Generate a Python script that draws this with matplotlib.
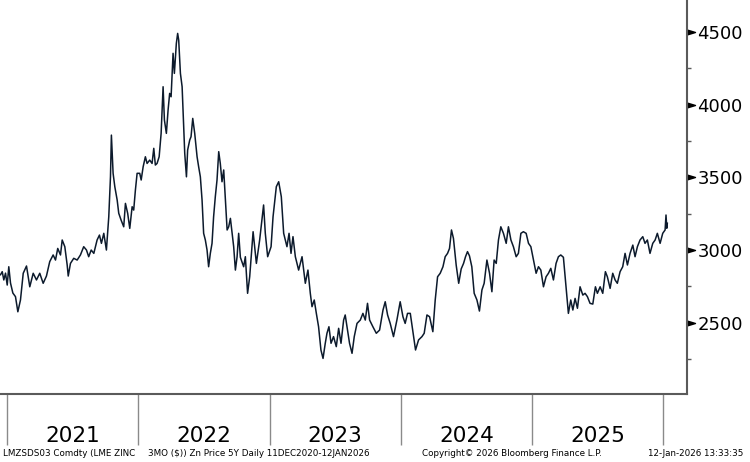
import numpy as np
import matplotlib
matplotlib.use("Agg")
import matplotlib.pyplot as plt

# LME zinc 3M price (decimal year, USD/t)
t = [2020.949, 2020.962, 2020.974, 2020.987, 2021.000, 2021.012, 2021.025, 2021.043, 2021.063, 2021.081,
     2021.101, 2021.122, 2021.147, 2021.172, 2021.198, 2021.223, 2021.248, 2021.274, 2021.299, 2021.324,
     2021.350, 2021.368, 2021.385, 2021.406, 2021.419, 2021.439, 2021.457, 2021.465, 2021.482, 2021.507,
     2021.533, 2021.558, 2021.583, 2021.604, 2021.621, 2021.640, 2021.660, 2021.685, 2021.703, 2021.718,
     2021.736, 2021.756, 2021.774, 2021.787, 2021.794, 2021.807, 2021.820, 2021.838, 2021.850, 2021.868,
     2021.888, 2021.901, 2021.918, 2021.934, 2021.952, 2021.964, 2021.977, 2021.990,
     2022.010, 2022.021, 2022.036, 2022.053, 2022.066, 2022.086, 2022.104, 2022.117, 2022.129, 2022.142,
     2022.158, 2022.173, 2022.188, 2022.198, 2022.213, 2022.226, 2022.238, 2022.249, 2022.264, 2022.274,
     2022.289, 2022.299, 2022.307, 2022.320, 2022.333, 2022.340, 2022.353, 2022.366, 2022.375, 2022.391,
     2022.401, 2022.414, 2022.429, 2022.447, 2022.459, 2022.472, 2022.485, 2022.497, 2022.510, 2022.523,
     2022.535, 2022.548, 2022.561, 2022.573, 2022.586, 2022.599, 2022.612, 2022.624, 2022.637, 2022.650,
     2022.663, 2022.676, 2022.688, 2022.701, 2022.714, 2022.726, 2022.739, 2022.752, 2022.764, 2022.777,
     2022.802, 2022.815, 2022.832, 2022.848, 2022.874, 2022.899, 2022.924, 2022.954, 2022.967, 2022.985,
     2023.011, 2023.026, 2023.051, 2023.069, 2023.089, 2023.107, 2023.132, 2023.148, 2023.163, 2023.178,
     2023.196, 2023.221, 2023.247, 2023.272, 2023.292, 2023.310, 2023.323, 2023.340, 2023.356, 2023.373,
     2023.391, 2023.407, 2023.424, 2023.437, 2023.452, 2023.468, 2023.487, 2023.508, 2023.526, 2023.544,
     2023.564, 2023.576, 2023.594, 2023.609, 2023.628, 2023.645, 2023.666, 2023.691, 2023.711, 2023.729,
     2023.746, 2023.762, 2023.787, 2023.813, 2023.838, 2023.864, 2023.881, 2023.899, 2023.919, 2023.944,
     2023.970, 2023.995,
     2024.016, 2024.033, 2024.051, 2024.072, 2024.092, 2024.112, 2024.135, 2024.161, 2024.178, 2024.199,
     2024.219, 2024.244, 2024.262, 2024.280, 2024.300, 2024.321, 2024.338, 2024.356, 2024.371, 2024.386,
     2024.401, 2024.422, 2024.441, 2024.460, 2024.478, 2024.493, 2024.508, 2024.523, 2024.541, 2024.559,
     2024.580, 2024.599, 2024.618, 2024.635, 2024.656, 2024.676, 2024.694, 2024.711, 2024.727, 2024.744,
     2024.762, 2024.782, 2024.803, 2024.820, 2024.839, 2024.858, 2024.879, 2024.896, 2024.915, 2024.934,
     2024.955, 2024.973, 2024.991,
     2025.011, 2025.031, 2025.049, 2025.067, 2025.087, 2025.107, 2025.125, 2025.143, 2025.163, 2025.183,
     2025.201, 2025.219, 2025.239, 2025.252, 2025.265, 2025.277, 2025.295, 2025.311, 2025.328, 2025.346,
     2025.366, 2025.387, 2025.404, 2025.422, 2025.442, 2025.463, 2025.483, 2025.498, 2025.519, 2025.539,
     2025.559, 2025.574, 2025.595, 2025.615, 2025.633, 2025.650, 2025.671, 2025.691, 2025.709, 2025.727,
     2025.747, 2025.768, 2025.785, 2025.803, 2025.823, 2025.844, 2025.861, 2025.879, 2025.899, 2025.920,
     2025.938, 2025.955, 2025.976, 2025.996, 2026.014, 2026.021, 2026.027, 2026.031]

price = [2830, 2851, 2794, 2841, 2759, 2885, 2773, 2704, 2679, 2575,
         2656, 2840, 2890, 2747, 2840, 2794, 2840, 2771, 2821, 2920,
         2966, 2931, 3011, 2966, 3069, 3023, 2897, 2821, 2908, 2943,
         2931, 2966, 3023, 3000, 2954, 3000, 2977, 3069, 3103, 3046,
         3115, 3000, 3229, 3504, 3791, 3528, 3436, 3344, 3253, 3206,
         3160, 3321, 3253, 3149, 3298, 3275, 3413, 3528,
         3528, 3482, 3573, 3642, 3596, 3619, 3596, 3700, 3585, 3596,
         3642, 3803, 4124, 3895, 3803, 3963, 4078, 4055, 4354, 4216,
         4422, 4491, 4445, 4216, 4124, 3963, 3665, 3504, 3688, 3757,
         3780, 3906, 3803, 3642, 3573, 3504, 3344, 3115, 3069, 3000,
         2885, 2977, 3046, 3229, 3367, 3482, 3677, 3596, 3470, 3551,
         3344, 3138, 3160, 3218, 3115, 3023, 2862, 2954, 3115, 2950,
         2885, 2954, 2702, 2816, 3126, 2908, 3069, 3310, 3115, 2954,
         3023, 3229, 3436, 3470, 3367, 3115, 3023, 3115, 2977, 3092,
         2954, 2862, 2954, 2771, 2862, 2702, 2610, 2656, 2564, 2472,
         2312, 2254, 2358, 2427, 2472, 2358, 2404, 2335, 2461, 2358,
         2518, 2553, 2449, 2358, 2289, 2404, 2495, 2518, 2564, 2518,
         2633, 2518, 2472, 2427, 2449, 2587, 2644, 2553, 2495, 2404,
         2518, 2644,
         2541, 2495, 2564, 2564, 2438, 2312, 2381, 2404, 2427, 2553,
         2541, 2438, 2656, 2816, 2840, 2885, 2954, 2977, 3011, 3138,
         3080, 2895, 2771, 2870, 2908, 2954, 2989, 2960, 2885, 2702,
         2656, 2580, 2725, 2771, 2931, 2840, 2713, 2931, 2908, 3069,
         3160, 3115, 3046, 3160, 3069, 3023, 2954, 2977, 3115, 3126,
         3115, 3046, 3023,
         2931, 2840, 2885, 2862, 2747, 2816, 2840, 2874, 2794, 2908,
         2954, 2966, 2950, 2816, 2679, 2564, 2656, 2587, 2667, 2599,
         2747, 2690, 2702, 2679, 2633, 2628, 2747, 2702, 2747, 2702,
         2851, 2816, 2736, 2840, 2794, 2771, 2851, 2885, 2977, 2897,
         2977, 3034, 2954, 3023, 3069, 3092, 3046, 3069, 2977, 3046,
         3069, 3115, 3046, 3115, 3138, 3241, 3150, 3184]

years = [2021, 2022, 2023, 2024, 2025]
ymajor = [2500, 3000, 3500, 4000, 4500]
yminor = [2250, 2750, 3250, 3750, 4250]

footer = [(3, "LMZSDS03 Comdty (LME ZINC"),
          (148, "3MO ($)) Zn Price 5Y Daily 11DEC2020-12JAN2026"),
          (422, "Copyright\u00a9 2026 Bloomberg Finance L.P."),
          (648, "12-Jan-2026 13:33:35")]

W, H = 750, 462
fig = plt.figure(figsize=(W / 100, H / 100), dpi=100)
ax = fig.add_axes([0, 1 - 394 / H, 687 / W, 394 / H])

ax.plot(t, price, color="#0c1a2c", lw=1.1, solid_joinstyle="round")

ax.set_xlim(2020.945, 2026.181)
ax.set_ylim(2009, 4721)

for s in ["left", "top"]:
    ax.spines[s].set_visible(False)
for s in ["right", "bottom"]:
    ax.spines[s].set_color("#5a5a5a")
    ax.spines[s].set_linewidth(1.5)

# right axis
ax.yaxis.tick_right()
ax.set_yticks(ymajor)
ax.set_yticks(yminor, minor=True)
ax.tick_params(axis="y", which="major", length=0, pad=7.5, labelsize=13, labelcolor="black")
ax.tick_params(axis="y", which="minor", length=3, width=1, color="#5a5a5a", direction="out")
tri = [(0, -0.3), (1, 0), (0, 0.3), (0, -0.3)]
ax.plot([1.0] * len(ymajor), ymajor, ls="none", marker=tri, ms=11.5, color="black",
        transform=ax.get_yaxis_transform(), clip_on=False)

# bottom axis: year separators and labels
ax.set_xticks(years + [2026])
ax.set_xticklabels([])
ax.tick_params(axis="x", which="major", length=36.5, width=1, color="#8a8a8a", direction="out")
for y in years:
    ax.text(y + 0.5, -0.121, str(y), transform=ax.get_xaxis_transform(),
            ha="center", va="baseline", fontsize=15.5, color="black")

for x, s in footer:
    fig.text(x / W, 1 - 456 / H, s, ha="left", va="baseline", fontsize=6.3, color="black")

fig.savefig("out.png", dpi=100)
